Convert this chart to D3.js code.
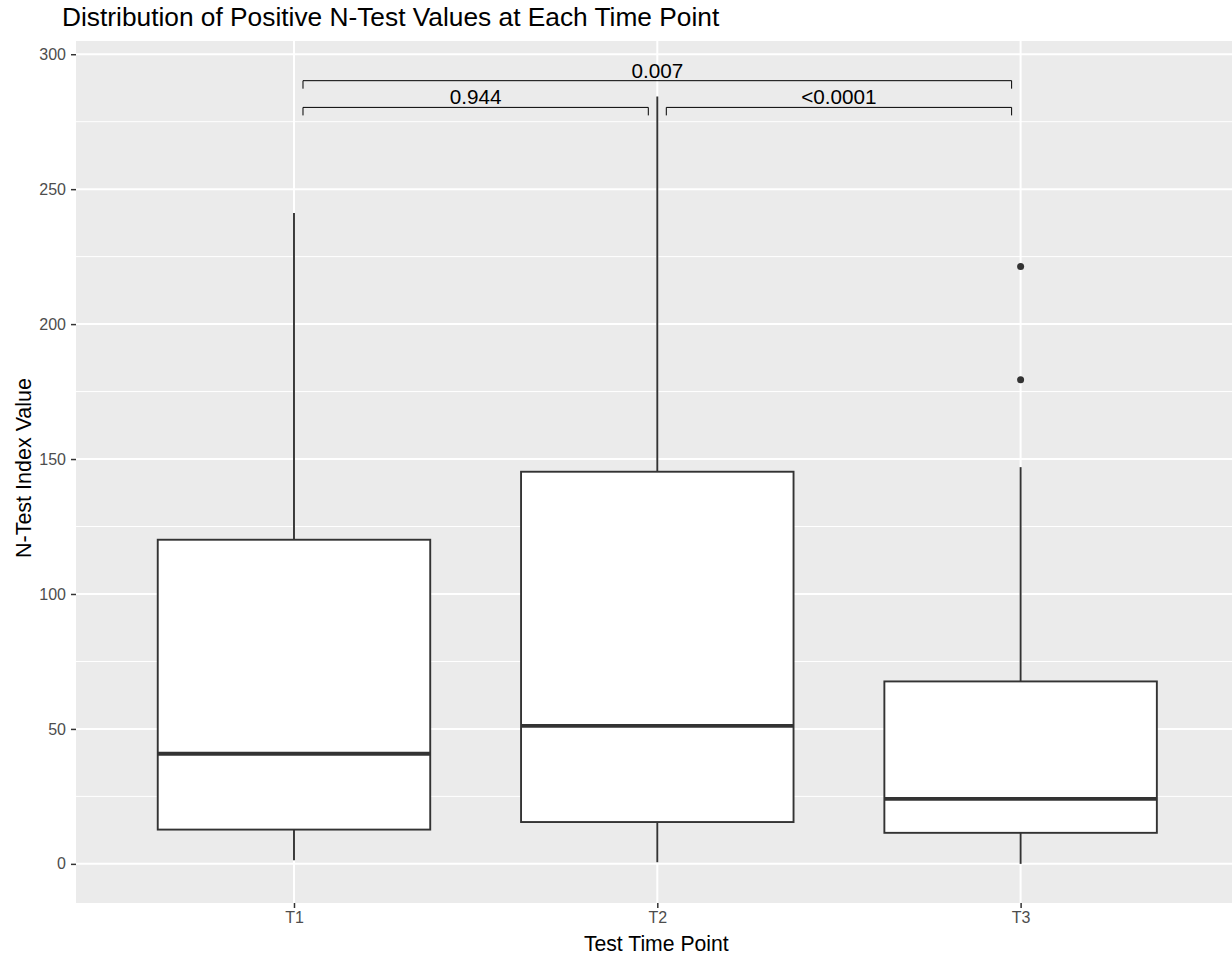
<!DOCTYPE html>
<html>
<head>
<meta charset="utf-8">
<script src="https://cdn.jsdelivr.net/npm/d3@7"></script>
<style>
  body { margin: 0; background: #fff; }
  text { font-family: "Liberation Sans", Arial, sans-serif; }
</style>
</head>
<body>
<svg width="1232" height="957"></svg>
<script>
var svg = d3.select("svg"),
    width = +svg.attr("width"),
    height = +svg.attr("height");

// data
var timePoints = ["T1", "T2", "T3"];
var lowerWhisker = [1.3, 0.6, 0];
var q1 = [12.7, 15.5, 11.5];
var medians = [40.8, 51.1, 24.1];
var q3 = [120.1, 145.3, 67.6];
var upperWhisker = [241.2, 284.3, 147.0];
var outlierGroup = ["T3", "T3"];
var outlierValues = [179.4, 221.3];

var yTicks = [0, 50, 100, 150, 200, 250, 300];
var yMinor = [25, 75, 125, 175, 225, 275];

var bracketFrom = ["T1", "T2", "T1"];
var bracketTo = ["T2", "T3", "T3"];
var bracketY = [280.3, 280.3, 290.2];
var bracketLabels = ["0.944", "<0.0001", "0.007"];

var panel = {left: 76, top: 41, right: 1238.6, bottom: 903};

var x = d3.scalePoint()
    .domain(timePoints)
    .range([panel.left, panel.right])
    .padding(0.6);

var y = d3.scaleLinear()
    .domain([-14.5, 304.9])
    .range([panel.bottom, panel.top]);

var boxW = x.step() * 0.75;
var ink = "#333333";

// panel background
svg.append("rect")
    .attr("x", panel.left)
    .attr("y", panel.top)
    .attr("width", panel.right - panel.left)
    .attr("height", panel.bottom - panel.top)
    .attr("fill", "#EBEBEB");

var grid = svg.append("g").attr("class", "grid");

grid.selectAll(".minor")
  .data(yMinor)
  .enter().append("line")
    .attr("x1", panel.left).attr("x2", panel.right)
    .attr("y1", function(d) { return y(d); })
    .attr("y2", function(d) { return y(d); })
    .attr("stroke", "#fff")
    .attr("stroke-width", 1);

grid.selectAll(".major")
  .data(yTicks)
  .enter().append("line")
    .attr("x1", panel.left).attr("x2", panel.right)
    .attr("y1", function(d) { return y(d); })
    .attr("y2", function(d) { return y(d); })
    .attr("stroke", "#fff")
    .attr("stroke-width", 2);

grid.selectAll(".vmajor")
  .data(timePoints)
  .enter().append("line")
    .attr("x1", function(d) { return x(d); })
    .attr("x2", function(d) { return x(d); })
    .attr("y1", panel.top).attr("y2", panel.bottom)
    .attr("stroke", "#fff")
    .attr("stroke-width", 2);

// boxes
var boxes = svg.append("g").attr("class", "boxes")
  .selectAll("g")
  .data(timePoints)
  .enter().append("g");

boxes.append("line")
    .attr("x1", function(d) { return x(d); })
    .attr("x2", function(d) { return x(d); })
    .attr("y1", function(d, i) { return y(q3[i]); })
    .attr("y2", function(d, i) { return y(upperWhisker[i]); })
    .attr("stroke", ink)
    .attr("stroke-width", 1.9);

boxes.append("line")
    .attr("x1", function(d) { return x(d); })
    .attr("x2", function(d) { return x(d); })
    .attr("y1", function(d, i) { return y(q1[i]); })
    .attr("y2", function(d, i) { return y(lowerWhisker[i]); })
    .attr("stroke", ink)
    .attr("stroke-width", 1.9);

boxes.append("rect")
    .attr("x", function(d) { return x(d) - boxW / 2; })
    .attr("y", function(d, i) { return y(q3[i]); })
    .attr("width", boxW)
    .attr("height", function(d, i) { return y(q1[i]) - y(q3[i]); })
    .attr("fill", "#fff")
    .attr("stroke", ink)
    .attr("stroke-width", 1.9);

boxes.append("line")
    .attr("x1", function(d) { return x(d) - boxW / 2; })
    .attr("x2", function(d) { return x(d) + boxW / 2; })
    .attr("y1", function(d, i) { return y(medians[i]); })
    .attr("y2", function(d, i) { return y(medians[i]); })
    .attr("stroke", ink)
    .attr("stroke-width", 3.8);

svg.append("g").attr("class", "outliers")
  .selectAll("circle")
  .data(outlierValues)
  .enter().append("circle")
    .attr("cx", function(d, i) { return x(outlierGroup[i]); })
    .attr("cy", function(d) { return y(d); })
    .attr("r", 3.5)
    .attr("fill", ink);

// significance brackets
var inset = 9, tip = 8;
var brackets = svg.append("g").attr("class", "brackets")
  .selectAll("g")
  .data(bracketLabels)
  .enter().append("g");

brackets.append("path")
    .attr("d", function(d, i) {
      var x0 = x(bracketFrom[i]) + inset,
          x1 = x(bracketTo[i]) - inset,
          yy = y(bracketY[i]);
      return "M" + x0 + "," + (yy + tip) + "V" + yy + "H" + x1 + "V" + (yy + tip);
    })
    .attr("fill", "none")
    .attr("stroke", "#000")
    .attr("stroke-width", 1);

brackets.append("text")
    .attr("x", function(d, i) { return (x(bracketFrom[i]) + x(bracketTo[i])) / 2; })
    .attr("y", function(d, i) { return y(bracketY[i]) - 3; })
    .attr("text-anchor", "middle")
    .attr("font-size", "20.7px")
    .attr("fill", "#000")
    .text(function(d) { return d; });

// axes
var yAxis = svg.append("g")
    .attr("transform", "translate(" + panel.left + ",0)")
    .call(d3.axisLeft(y).tickValues(yTicks).tickSize(5).tickPadding(5));

var xAxis = svg.append("g")
    .attr("transform", "translate(0," + panel.bottom + ")")
    .call(d3.axisBottom(x).tickSize(5).tickPadding(4));

[yAxis, xAxis].forEach(function(a) {
  a.select(".domain").remove();
  a.selectAll(".tick line").attr("stroke", ink).attr("stroke-width", 1.5);
  a.selectAll(".tick text")
    .attr("fill", "#4D4D4D")
    .attr("font-size", "16px")
    .attr("font-family", "Liberation Sans, Arial, sans-serif");
});

svg.append("text")
    .attr("x", 62)
    .attr("y", 26)
    .attr("font-size", "26.3px")
    .attr("fill", "#000")
    .text("Distribution of Positive N-Test Values at Each Time Point");

svg.append("text")
    .attr("x", (panel.left + panel.right) / 2 - 1)
    .attr("y", 951)
    .attr("text-anchor", "middle")
    .attr("font-size", "21.2px")
    .attr("fill", "#000")
    .text("Test Time Point");

svg.append("text")
    .attr("transform", "translate(31," + ((panel.top + panel.bottom) / 2 - 4) + ") rotate(-90)")
    .attr("text-anchor", "middle")
    .attr("font-size", "21.5px")
    .attr("fill", "#000")
    .text("N-Test Index Value");
</script>
</body>
</html>
